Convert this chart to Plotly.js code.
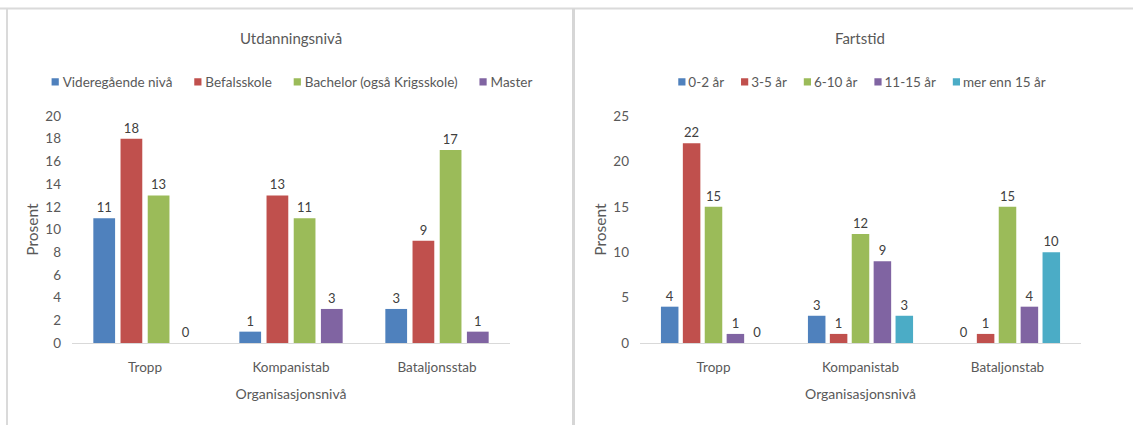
<!DOCTYPE html>
<html>
<head>
<meta charset="utf-8">
<script src="https://cdn.plot.ly/plotly-3.0.1.min.js"></script>
<style>
  html, body { margin: 0; padding: 0; background: #ffffff; }
  #chart { width: 1133px; height: 425px; }
</style>
</head>
<body>
<div id="chart"></div>
<script>
// Category labels for the two panels
const levelsEducation = ['Tropp', 'Kompanistab', 'Bataljonsstab'];
const levelsService = ['Tropp', 'Kompanistab', 'Bataljonstab'];

// Utdanningsnivå (prosent)
const educationNames = ['Videregående nivå', 'Befalsskole', 'Bachelor (også Krigsskole)', 'Master'];
const videregaende = [11, 1, 3];
const befalsskole = [18, 13, 9];
const bachelor = [13, 11, 17];
const master = [0, 3, 1];

// Fartstid (prosent)
const serviceNames = ['0-2 år', '3-5 år', '6-10 år', '11-15 år', 'mer enn 15 år'];
const years0to2 = [4, 3, 0];
const years3to5 = [22, 1, 1];
const years6to10 = [15, 12, 15];
const years11to15 = [1, 9, 4];
const yearsOver15 = [0, 3, 10];

// Y axis ticks
const ticksEducation = [0, 2, 4, 6, 8, 10, 12, 14, 16, 18, 20];
const ticksService = [0, 5, 10, 15, 20, 25];

const FONT = 'Lato, "Open Sans", sans-serif';
const GREY = '#595959';
const LABEL = '#404040';
const palette = ['#4F81BD', '#C0504D', '#9BBB59', '#8064A2', '#4BACC6'];

function barTrace(name, x, y, color, xa, ya, legend) {
  return {
    type: 'bar', name: name, x: x, y: y,
    xaxis: xa, yaxis: ya, legend: legend,
    marker: { color: color, line: { width: 0 } },
    text: y.map(String), textposition: 'outside',
    textfont: { family: FONT, size: 13, color: LABEL },
    cliponaxis: false, hoverinfo: 'x+y+name'
  };
}

const educationSeries = [videregaende, befalsskole, bachelor, master];
const serviceSeries = [years0to2, years3to5, years6to10, years11to15, yearsOver15];

const traces = [];
educationSeries.forEach((vals, i) => {
  traces.push(barTrace(educationNames[i], levelsEducation, vals, palette[i], 'x', 'y', 'legend'));
});
serviceSeries.forEach((vals, i) => {
  traces.push(barTrace(serviceNames[i], levelsService, vals, palette[i], 'x2', 'y2', 'legend2'));
});

const xCommon = {
  showline: true, linecolor: '#D9D9D9', linewidth: 1,
  showgrid: false, zeroline: false, ticks: '',
  tickfont: { family: FONT, size: 13.5, color: GREY },
  ticklabelstandoff: 12,
  fixedrange: true
};
const yCommon = {
  showline: false, showgrid: false, zeroline: false, ticks: '',
  tickfont: { family: FONT, size: 13.5, color: GREY },
  ticklabelstandoff: 10,
  tickmode: 'array',
  fixedrange: true
};
const axisTitleFont = { family: FONT, size: 14, color: GREY };
const yTitleFont = { family: FONT, size: 15.5, color: GREY };

const legendCommon = {
  orientation: 'h', xanchor: 'center', yanchor: 'middle',
  font: { family: FONT, size: 13.5, color: GREY },
  bgcolor: 'rgba(0,0,0,0)', itemclick: false, itemdoubleclick: false,
  traceorder: 'normal'
};

const layout = {
  width: 1133, height: 425,
  margin: { l: 0, r: 0, t: 0, b: 0, autoexpand: false },
  paper_bgcolor: '#ffffff', plot_bgcolor: '#ffffff',
  barmode: 'group', bargap: 0.255, bargroupgap: 0.2,
  font: { family: FONT, color: GREY },
  xaxis: Object.assign({}, xCommon, {
    domain: [72 / 1133, 510 / 1133], anchor: 'y',
    title: { text: 'Organisasjonsnivå', font: axisTitleFont, standoff: 14 }
  }),
  yaxis: Object.assign({}, yCommon, {
    domain: [1 - 343 / 425, 1 - 116 / 425], anchor: 'x', range: [0, 20],
    tickvals: ticksEducation,
    title: { text: 'Prosent', font: yTitleFont, standoff: 2 }
  }),
  xaxis2: Object.assign({}, xCommon, {
    domain: [640 / 1133, 1081 / 1133], anchor: 'y2',
    title: { text: 'Organisasjonsnivå', font: axisTitleFont, standoff: 14 }
  }),
  yaxis2: Object.assign({}, yCommon, {
    domain: [1 - 343 / 425, 1 - 116 / 425], anchor: 'x2', range: [0, 25],
    tickvals: ticksService,
    title: { text: 'Prosent', font: yTitleFont, standoff: 2 }
  }),
  legend: Object.assign({}, legendCommon, { x: 292 / 1133, y: 1 - 82 / 425 }),
  legend2: Object.assign({}, legendCommon, { x: 862 / 1133, y: 1 - 82 / 425 }),
  annotations: [
    { text: 'Utdanningsnivå', xref: 'paper', yref: 'paper', x: 291 / 1133, y: 1 - 38 / 425,
      xanchor: 'center', yanchor: 'middle', showarrow: false,
      font: { family: FONT, size: 15, color: GREY } },
    { text: 'Fartstid', xref: 'paper', yref: 'paper', x: 860 / 1133, y: 1 - 38 / 425,
      xanchor: 'center', yanchor: 'middle', showarrow: false,
      font: { family: FONT, size: 15, color: GREY } }
  ],
  shapes: [
    // panel frames
    { type: 'line', xref: 'paper', yref: 'paper', x0: 0, x1: 1, y0: 1 - 8.5 / 425, y1: 1 - 8.5 / 425,
      line: { color: '#DADADA', width: 2 } },
    { type: 'line', xref: 'paper', yref: 'paper', x0: 7 / 1133, x1: 7 / 1133, y0: 0, y1: 1 - 8.5 / 425,
      line: { color: '#DADADA', width: 2 } },
    { type: 'line', xref: 'paper', yref: 'paper', x0: 573.5 / 1133, x1: 573.5 / 1133, y0: 0, y1: 1 - 8.5 / 425,
      line: { color: '#D6D6D6', width: 3 } }
  ],
  showlegend: true
};

// Tighten a horizontal legend: small swatches next to their labels,
// entries packed with a fixed gap and centred on the given x (px).
function packLegend(leg, centerX, textOffset, gap) {
  const items = Array.from(leg.querySelectorAll('g.traces'));
  const re = /translate\(\s*([-\d.e]+)[\s,]+([-\d.e]+)\s*\)/;
  const entries = [];
  items.forEach(function (item) {
    const txt = item.querySelector('text');
    if (!txt) return;
    item.querySelectorAll('.legendpoints path').forEach(function (sym) {
      sym.setAttribute('transform', 'translate(3.5,0) scale(0.6)');
    });
    txt.setAttribute('x', textOffset);
    entries.push({ item: item, width: textOffset + txt.getComputedTextLength() });
  });
  if (!entries.length) return;
  const total = entries.reduce(function (a, e) { return a + e.width; }, 0) + gap * (entries.length - 1);
  const lm = re.exec(leg.getAttribute('transform') || '');
  const lx = lm ? parseFloat(lm[1]) : 0;
  let x = centerX - lx - total / 2;
  entries.forEach(function (e) {
    const tm = re.exec(e.item.getAttribute('transform') || '');
    const y = tm ? parseFloat(tm[2]) : 0;
    e.item.setAttribute('transform', 'translate(' + x + ',' + y + ')');
    x += e.width + gap;
  });
}

function packAllLegends() {
  const gd = document.getElementById('chart');
  const first = gd.querySelector('g.legend');
  const second = gd.querySelector('g.legend2');
  if (first) packLegend(first, 292, 11, 22);
  if (second) packLegend(second, 862, 10, 17);
}

const gdiv = document.getElementById('chart');
Plotly.newPlot(gdiv, traces, layout, { staticPlot: true, displayModeBar: false }).then(function () {
  packAllLegends();
  gdiv.on('plotly_afterplot', packAllLegends);
});
</script>
</body>
</html>
